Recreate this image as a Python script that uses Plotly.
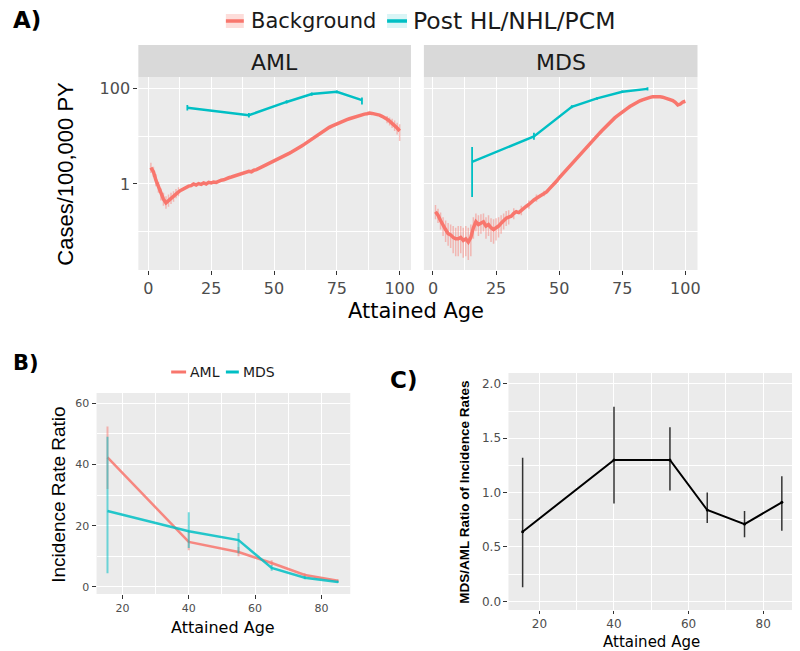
import plotly.graph_objects as go

# ---------------- data ----------------
ages_bg = list(range(1, 101))
aml_bg = [2.2, 1.8, 1.2, 0.85, 0.6, 0.48, 0.4, 0.45, 0.5, 0.55,
          0.62, 0.68, 0.74, 0.8, 0.85, 0.9, 0.92, 1.0, 0.95, 1.02,
          0.98, 1.05, 1.0, 1.08, 1.05, 1.1, 1.08, 1.15, 1.2, 1.22,
          1.3, 1.35, 1.4, 1.45, 1.5, 1.55, 1.62, 1.7, 1.75, 1.85,
          1.8, 1.95, 2.0, 2.1, 2.25, 2.4, 2.55, 2.7, 2.85, 3.0,
          3.2, 3.4, 3.6, 3.8, 4.1, 4.4, 4.7, 5.0, 5.4, 5.8,
          6.3, 6.8, 7.4, 8.0, 8.8, 9.6, 10.5, 11.5, 12.5, 13.5,
          14.5, 15.5, 16.5, 17.5, 18.5, 19.5, 20.5, 21.5, 22.5, 23.5,
          24.5, 25.5, 26.5, 27.5, 28.5, 29.5, 30, 31, 30.5, 30,
          29, 28, 26.5, 25, 23, 21, 19, 17, 15, 13]
mds_bg = [0.26, 0.22, 0.17, 0.13, 0.11, 0.09, 0.085, 0.075, 0.07, 0.07,
          0.075, 0.065, 0.07, 0.06, 0.075, 0.12, 0.16, 0.14, 0.15, 0.16,
          0.13, 0.14, 0.12, 0.11, 0.12, 0.13, 0.15, 0.17, 0.19, 0.2,
          0.21, 0.24, 0.26, 0.25, 0.28, 0.31, 0.34, 0.37, 0.42, 0.46,
          0.5, 0.54, 0.58, 0.63, 0.68, 0.78, 0.88, 1.0, 1.15, 1.35,
          1.55, 1.8, 2.05, 2.35, 2.7, 3.1, 3.5, 4.0, 4.6, 5.2,
          6.0, 6.9, 7.9, 9.0, 10.3, 11.7, 13.3, 15.2, 17.2, 19.5,
          22, 24.5, 27, 30, 33, 36, 39, 42.5, 46, 50,
          53, 56, 59, 62, 64, 66.5, 68.5, 69, 69, 68,
          67, 65, 63, 60, 57, 52, 46, 48, 53, 55]

# confidence limits of background rates (only where visible)
aml_bg_ci = {1: (1.7, 2.8), 2: (1.4, 2.3), 3: (0.9, 1.6), 4: (0.65, 1.1), 5: (0.45, 0.8),
             6: (0.35, 0.65), 7: (0.3, 0.55), 8: (0.33, 0.6), 9: (0.38, 0.65), 10: (0.42, 0.7),
             11: (0.5, 0.78), 12: (0.55, 0.85), 95: (19, 27), 96: (17, 25), 97: (15, 23.5),
             98: (13, 21.5), 99: (11, 19.5), 100: (8, 18)}
mds_bg_ci = {1: (0.18, 0.36), 2: (0.15, 0.3), 3: (0.11, 0.25), 4: (0.08, 0.2), 5: (0.06, 0.17),
             6: (0.05, 0.15), 7: (0.045, 0.14), 8: (0.035, 0.13), 9: (0.03, 0.12), 10: (0.03, 0.13),
             11: (0.035, 0.13), 12: (0.028, 0.12), 13: (0.03, 0.13), 14: (0.025, 0.12), 15: (0.03, 0.14),
             16: (0.07, 0.2), 17: (0.1, 0.24), 18: (0.08, 0.22), 19: (0.09, 0.23), 20: (0.1, 0.24),
             21: (0.07, 0.2), 22: (0.08, 0.22), 23: (0.06, 0.19), 24: (0.055, 0.18), 25: (0.065, 0.19),
             26: (0.075, 0.2), 27: (0.09, 0.22), 28: (0.11, 0.24), 29: (0.13, 0.27), 30: (0.14, 0.28),
             32: (0.18, 0.31), 35: (0.22, 0.35), 38: (0.3, 0.45), 41: (0.42, 0.6), 44: (0.55, 0.72)}

post_ages = [15.5, 40, 55, 65, 75, 85]
aml_post = [40, 28, 53, 78, 87, 58]
aml_post_lo = [35, 25, 49, 72, 81, 47]
aml_post_hi = [46, 31, 58, 84, 93, 66]
mds_post = [2.9, 10, 42, 63, 87, 100]
mds_post_lo = [0.53, 8.5, 39, 59, 82, 92]
mds_post_hi = [6.0, 12, 45, 67, 92, 108]

irr_aml = [42.3, 14.7, 11.4, 7.8, 3.9, 2.0]
irr_aml_lo = [32, 12, 10, 7, 3.4, 1.7]
irr_aml_hi = [52.4, 18, 13, 8.7, 4.5, 2.4]
irr_mds = [24.8, 18.2, 15.3, 6.2, 3.0, 1.6]
irr_mds_lo = [4.5, 12.7, 11.0, 5.3, 2.5, 1.3]
irr_mds_hi = [49.0, 24.4, 17.6, 7.2, 3.6, 2.0]

ratio = [0.64, 1.30, 1.30, 0.84, 0.71, 0.91]
ratio_lo = [0.13, 0.90, 1.02, 0.72, 0.59, 0.65]
ratio_hi = [1.32, 1.79, 1.60, 1.00, 0.83, 1.15]

RED = "#F8766D"
TEAL = "#00BFC4"
FONT_V = "Liberation Sans, Arial, sans-serif"   # rotated titles
FONT_H = "DejaVu Sans, sans-serif"              # horizontal text (wide)

# page body has an 8px margin: the figure starts at (8, 8) in the window
OFF = 8
W = 800 - OFF
H = 651 - OFF


def err_arrays(vals, ci):
    plus, minus = [], []
    for a, v in zip(ages_bg, vals):
        if a in ci:
            lo, hi = ci[a]
            plus.append(hi - v)
            minus.append(v - lo)
        else:
            plus.append(0)
            minus.append(0)
    return plus, minus


fig = go.Figure()

# --- Panel A: AML ---
p, m = err_arrays(aml_bg, aml_bg_ci)
fig.add_trace(go.Scatter(x=ages_bg, y=aml_bg, mode="lines", line=dict(color=RED, width=3.5),
                         error_y=dict(type="data", array=p, arrayminus=m, color="rgba(248,118,109,0.45)",
                                      thickness=1.5, width=0),
                         xaxis="x", yaxis="y", showlegend=False))
fig.add_trace(go.Scatter(x=post_ages, y=aml_post, mode="lines", line=dict(color=TEAL, width=2.4),
                         error_y=dict(type="data", array=[h - v for h, v in zip(aml_post_hi, aml_post)],
                                      arrayminus=[v - l for l, v in zip(aml_post_lo, aml_post)],
                                      color=TEAL, thickness=1.8, width=0),
                         xaxis="x", yaxis="y", showlegend=False))
# --- Panel A: MDS ---
p, m = err_arrays(mds_bg, mds_bg_ci)
fig.add_trace(go.Scatter(x=ages_bg, y=mds_bg, mode="lines", line=dict(color=RED, width=3.5),
                         error_y=dict(type="data", array=p, arrayminus=m, color="rgba(248,118,109,0.45)",
                                      thickness=1.5, width=0),
                         xaxis="x2", yaxis="y2", showlegend=False))
fig.add_trace(go.Scatter(x=post_ages, y=mds_post, mode="lines", line=dict(color=TEAL, width=2.4),
                         error_y=dict(type="data", array=[h - v for h, v in zip(mds_post_hi, mds_post)],
                                      arrayminus=[v - l for l, v in zip(mds_post_lo, mds_post)],
                                      color=TEAL, thickness=1.8, width=0),
                         xaxis="x2", yaxis="y2", showlegend=False))

# --- Panel B ---
fig.add_trace(go.Scatter(x=post_ages, y=irr_aml, mode="lines", line=dict(color="rgba(248,118,109,0.85)", width=2.5),
                         error_y=dict(type="data", array=[h - v for h, v in zip(irr_aml_hi, irr_aml)],
                                      arrayminus=[v - l for l, v in zip(irr_aml_lo, irr_aml)],
                                      color="rgba(248,118,109,0.5)", thickness=2, width=0),
                         xaxis="x3", yaxis="y3", showlegend=False))
fig.add_trace(go.Scatter(x=post_ages, y=irr_mds, mode="lines", line=dict(color="rgba(0,191,196,0.85)", width=2.5),
                         error_y=dict(type="data", array=[h - v for h, v in zip(irr_mds_hi, irr_mds)],
                                      arrayminus=[v - l for l, v in zip(irr_mds_lo, irr_mds)],
                                      color="rgba(0,191,196,0.55)", thickness=2, width=0),
                         xaxis="x3", yaxis="y3", showlegend=False))

# --- Panel C ---
fig.add_trace(go.Scatter(x=post_ages, y=ratio, mode="lines+markers", line=dict(color="black", width=2),
                         marker=dict(size=3, color="black"),
                         error_y=dict(type="data", array=[h - v for h, v in zip(ratio_hi, ratio)],
                                      arrayminus=[v - l for l, v in zip(ratio_lo, ratio)],
                                      color="#333333", thickness=1.5, width=0),
                         xaxis="x4", yaxis="y4", showlegend=False))


def X(p):
    return min(1.0, max(0.0, (p - OFF) / W))


def Y(p):
    return 1 - (p - OFF) / H


common_ax = dict(showline=False, zeroline=False, gridcolor="white", gridwidth=1.3,
                 ticks="outside", ticklen=4, tickcolor="#333333", tickwidth=1)
TICK_A = dict(size=16, color="#4D4D4D", family=FONT_H)
TICK_B = dict(size=11, color="#4D4D4D", family=FONT_H)
TICK_C = dict(size=12, color="#4D4D4D", family=FONT_H)

fig.update_layout(
    width=W, height=H, margin=dict(l=0, r=0, t=0, b=0),
    paper_bgcolor="white", plot_bgcolor="#EBEBEB", font=dict(family=FONT_H),
    xaxis=dict(domain=[X(139), X(413)], range=[-4, 104.5], tickvals=[0, 25, 50, 75, 100],
               minor=dict(tickvals=[12.5, 37.5, 62.5, 87.5], showgrid=True, gridcolor="white", gridwidth=0.6),
               tickfont=TICK_A, anchor="y", **common_ax),
    yaxis=dict(domain=[Y(270), Y(77)], type="log", range=[-1.81, 2.25], tickvals=[1, 100],
               ticktext=["1", "100"],
               minor=dict(tickvals=[0.1, 10], showgrid=True, gridcolor="white", gridwidth=0.6),
               tickfont=TICK_A, anchor="x", **common_ax),
    xaxis2=dict(domain=[X(426), X(701)], range=[-3.6, 104.8], tickvals=[0, 25, 50, 75, 100],
                minor=dict(tickvals=[12.5, 37.5, 62.5, 87.5], showgrid=True, gridcolor="white", gridwidth=0.6),
                tickfont=TICK_A, anchor="y2", **common_ax),
    yaxis2=dict(domain=[Y(270), Y(77)], type="log", range=[-1.81, 2.25], tickvals=[1, 100],
                showticklabels=False, ticks="",
                minor=dict(tickvals=[0.1, 10], showgrid=True, gridcolor="white", gridwidth=0.6),
                anchor="x2", showline=False, zeroline=False, gridcolor="white", gridwidth=1.3),
    xaxis3=dict(domain=[X(97), X(352)], range=[12.2, 88.7], tickvals=[20, 40, 60, 80],
                minor=dict(tickvals=[30, 50, 70], showgrid=True, gridcolor="white", gridwidth=0.6),
                tickfont=TICK_B, anchor="y3", **common_ax),
    yaxis3=dict(domain=[Y(594), Y(393)], range=[-2.3, 63.3], tickvals=[0, 20, 40, 60],
                minor=dict(tickvals=[10, 30, 50], showgrid=True, gridcolor="white", gridwidth=0.6),
                tickfont=TICK_B, anchor="x3", **common_ax),
    xaxis4=dict(domain=[X(511), 1.0], range=[11.7, 88.8], tickvals=[20, 40, 60, 80],
                minor=dict(tickvals=[30, 50, 70], showgrid=True, gridcolor="white", gridwidth=0.6),
                tickfont=TICK_C, anchor="y4", showline=False, zeroline=False, gridcolor="white",
                gridwidth=1.3, ticks="outside", ticklen=3, tickcolor="#333333", tickwidth=1),
    yaxis4=dict(domain=[Y(610), Y(373)], range=[-0.08, 2.1], tickvals=[0, 0.5, 1.0, 1.5, 2.0],
                ticktext=["0.0", "0.5", "1.0", "1.5", "2.0"],
                minor=dict(tickvals=[0.25, 0.75, 1.25, 1.75], showgrid=True, gridcolor="white", gridwidth=0.6),
                tickfont=TICK_C, anchor="x4", **common_ax),
)

shapes = []
# strips
for x0, x1 in [(139, 413), (426, 701)]:
    shapes.append(dict(type="rect", xref="paper", yref="paper", x0=X(x0), x1=X(x1), y0=Y(77), y1=Y(45),
                       fillcolor="#D9D9D9", line=dict(width=0), layer="below"))
# legend keys panel A
shapes.append(dict(type="rect", xref="paper", yref="paper", x0=X(227), x1=X(245), y0=Y(28), y1=Y(14),
                   fillcolor="rgba(248,118,109,0.25)", line=dict(width=0)))
shapes.append(dict(type="line", xref="paper", yref="paper", x0=X(227), x1=X(245), y0=Y(21), y1=Y(21),
                   line=dict(color=RED, width=3.5)))
shapes.append(dict(type="rect", xref="paper", yref="paper", x0=X(389), x1=X(409), y0=Y(28), y1=Y(14),
                   fillcolor="rgba(0,191,196,0.15)", line=dict(width=0)))
shapes.append(dict(type="line", xref="paper", yref="paper", x0=X(389), x1=X(409), y0=Y(21), y1=Y(21),
                   line=dict(color=TEAL, width=3.5)))
# legend keys panel B
shapes.append(dict(type="line", xref="paper", yref="paper", x0=X(172), x1=X(187), y0=Y(372), y1=Y(372),
                   line=dict(color=RED, width=3)))
shapes.append(dict(type="line", xref="paper", yref="paper", x0=X(227), x1=X(240), y0=Y(372), y1=Y(372),
                   line=dict(color=TEAL, width=3)))
fig.update_layout(shapes=shapes)


def ann(text, x, y, size, color="#1A1A1A", angle=0, xanchor="center", bold=False, family=FONT_H):
    return dict(text=f"<b>{text}</b>" if bold else text, x=X(x), y=Y(y), xref="paper", yref="paper",
                showarrow=False, textangle=angle, xanchor=xanchor, yanchor="middle",
                font=dict(size=size, color=color, family=family))


annotations = [
    ann("A)", 11, 20, 23, color="black", bold=True, xanchor="left"),
    ann("B)", 11, 363, 21, color="black", bold=True, xanchor="left"),
    ann("C)", 406, 380, 23, color="black", bold=True),
    ann("Background", 250, 21, 21, xanchor="left"),
    ann("Post HL/NHL/PCM", 413, 21, 23.5, xanchor="left"),
    ann("AML", 276, 62, 22),
    ann("MDS", 563.5, 62, 22),
    ann("Cases/100,000 PY", 66, 174, 22, color="black", angle=-90, family=FONT_V),
    ann("Attained Age", 418, 311, 21, color="black"),
    ann("AML", 189, 372, 14, xanchor="left"),
    ann("MDS", 242, 372, 14, xanchor="left"),
    ann("Incidence Rate Ratio", 58, 495, 19, color="black", angle=-90, family=FONT_V),
    ann("Attained Age", 224, 627, 16, color="black"),
    ann("MDS/AML Ratio of Incidence Rates", 466, 492, 13.5, color="black", angle=-90, bold=True,
        family=FONT_V),
    ann("Attained Age", 655, 642, 15, color="black"),
]
fig.update_layout(annotations=annotations)

fig.write_html("out.html")
